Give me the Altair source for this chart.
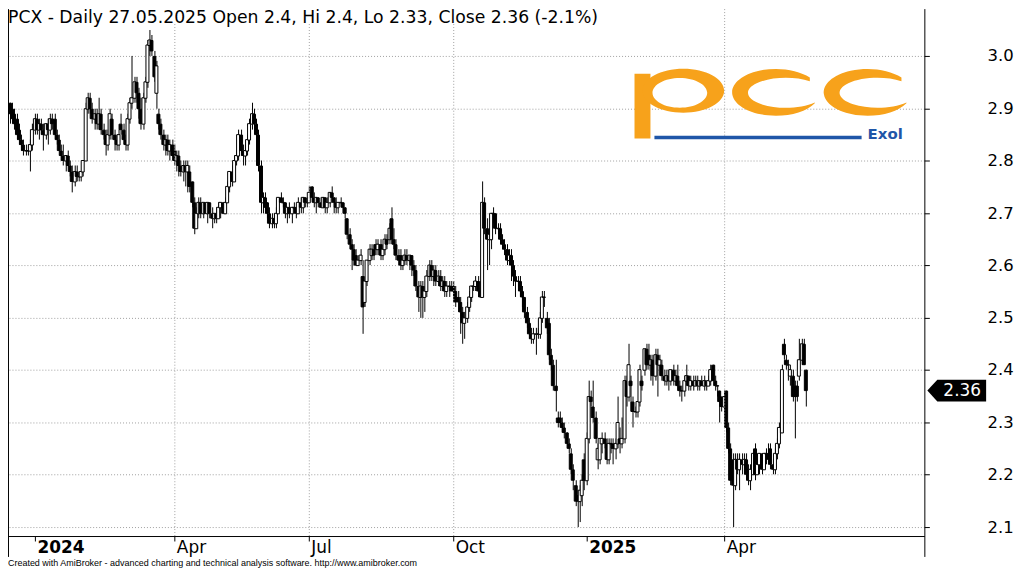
import altair as alt
import pandas as pd

# ---------------- data ----------------
opens = [
    2.91, 2.90, 2.89, 2.88, 2.86, 2.84, 2.83, 2.82, 2.82, 2.82,
    2.83, 2.86, 2.88, 2.86, 2.87, 2.86, 2.85, 2.87, 2.86, 2.88,
    2.88, 2.85, 2.84, 2.82, 2.81, 2.80, 2.81, 2.79, 2.78, 2.76,
    2.78, 2.77, 2.77, 2.78, 2.80, 2.90, 2.92, 2.90, 2.88, 2.89,
    2.87, 2.89, 2.86, 2.85, 2.83, 2.85, 2.88, 2.85, 2.84, 2.83,
    2.87, 2.86, 2.84, 2.83, 2.88, 2.91, 2.92, 2.95, 2.93, 2.90,
    2.87, 2.92, 2.95, 3.02, 3.03, 3.00, 2.93, 2.89, 2.87, 2.85,
    2.83, 2.84, 2.82, 2.83, 2.82, 2.80, 2.81, 2.79, 2.78, 2.79,
    2.78, 2.78, 2.76, 2.72, 2.67, 2.70, 2.72, 2.70, 2.72, 2.70,
    2.72, 2.70, 2.69, 2.70, 2.69, 2.71, 2.72, 2.70, 2.72, 2.75,
    2.78, 2.76, 2.80, 2.81, 2.85, 2.82, 2.81, 2.82, 2.84, 2.87,
    2.89, 2.87, 2.85, 2.79, 2.72, 2.73, 2.72, 2.70, 2.68, 2.69,
    2.68, 2.70, 2.73, 2.72, 2.72, 2.70, 2.71, 2.70, 2.71, 2.71,
    2.70, 2.72, 2.71, 2.73, 2.72, 2.72, 2.75, 2.73, 2.72, 2.73,
    2.72, 2.71, 2.73, 2.71, 2.72, 2.74, 2.73, 2.72, 2.71, 2.72,
    2.72, 2.71, 2.69, 2.66, 2.64, 2.63, 2.62, 2.60, 2.61, 2.58,
    2.53, 2.57, 2.61, 2.62, 2.63, 2.64, 2.63, 2.64, 2.62, 2.63,
    2.65, 2.65, 2.69, 2.65, 2.64, 2.62, 2.62, 2.60, 2.61, 2.62,
    2.61, 2.62, 2.60, 2.59, 2.56, 2.54, 2.56, 2.54, 2.55, 2.58,
    2.60, 2.58, 2.59, 2.57, 2.58, 2.56, 2.57, 2.55, 2.56, 2.56,
    2.56, 2.55, 2.54, 2.53, 2.51, 2.49, 2.50, 2.52, 2.54, 2.56,
    2.56, 2.57, 2.55, 2.54, 2.72, 2.67, 2.65, 2.65, 2.70, 2.70,
    2.67, 2.67, 2.65, 2.64, 2.63, 2.61, 2.62, 2.60, 2.58, 2.57,
    2.57, 2.55, 2.54, 2.51, 2.49, 2.47, 2.46, 2.47, 2.47, 2.47,
    2.50, 2.54, 2.50, 2.49, 2.43, 2.41, 2.37, 2.31, 2.31, 2.30,
    2.29, 2.28, 2.26, 2.24, 2.21, 2.18, 2.16, 2.15, 2.16, 2.23,
    2.19, 2.27, 2.35, 2.33, 2.31, 2.23, 2.23, 2.26, 2.27, 2.26,
    2.23, 2.26, 2.26, 2.25, 2.26, 2.27, 2.26, 2.27, 2.38, 2.35,
    2.38, 2.34, 2.32, 2.32, 2.34, 2.38, 2.40, 2.44, 2.43, 2.41,
    2.42, 2.39, 2.43, 2.41, 2.41, 2.39, 2.38, 2.39, 2.38, 2.40,
    2.38, 2.39, 2.37, 2.36, 2.36, 2.38, 2.39, 2.37, 2.38, 2.37,
    2.38, 2.37, 2.38, 2.37, 2.38, 2.37, 2.38, 2.41, 2.38, 2.37,
    2.36, 2.35, 2.33, 2.36, 2.29, 2.25, 2.23, 2.18, 2.23, 2.21,
    2.23, 2.22, 2.23, 2.21, 2.19, 2.20, 2.25, 2.20, 2.22, 2.24,
    2.21, 2.24, 2.24, 2.25, 2.22, 2.21, 2.24, 2.26, 2.28, 2.45,
    2.42, 2.41, 2.39, 2.39, 2.37, 2.37, 2.39, 2.42, 2.45, 2.40,
]
highs = [
    2.91, 2.91, 2.90, 2.89, 2.87, 2.85, 2.84, 2.83, 2.83, 2.84,
    2.87, 2.89, 2.89, 2.88, 2.88, 2.87, 2.87, 2.88, 2.89, 2.89,
    2.89, 2.86, 2.85, 2.83, 2.83, 2.81, 2.82, 2.80, 2.79, 2.79,
    2.79, 2.78, 2.78, 2.80, 2.91, 2.93, 2.93, 2.91, 2.90, 2.90,
    2.92, 2.90, 2.87, 2.86, 2.86, 2.90, 2.89, 2.86, 2.85, 2.86,
    2.89, 2.87, 2.85, 2.89, 2.92, 3.00, 2.96, 2.96, 2.94, 2.92,
    2.93, 2.96, 3.03, 3.05, 3.04, 3.01, 2.99, 2.90, 2.88, 2.86,
    2.85, 2.85, 2.84, 2.84, 2.83, 2.82, 2.82, 2.80, 2.80, 2.80,
    2.80, 2.79, 2.76, 2.73, 2.71, 2.73, 2.73, 2.72, 2.72, 2.72,
    2.72, 2.71, 2.70, 2.71, 2.72, 2.72, 2.72, 2.73, 2.76, 2.78,
    2.79, 2.81, 2.82, 2.86, 2.86, 2.83, 2.83, 2.85, 2.88, 2.91,
    2.90, 2.88, 2.86, 2.80, 2.74, 2.74, 2.72, 2.71, 2.70, 2.70,
    2.71, 2.73, 2.74, 2.73, 2.72, 2.71, 2.72, 2.71, 2.72, 2.71,
    2.73, 2.73, 2.73, 2.73, 2.73, 2.75, 2.75, 2.74, 2.73, 2.73,
    2.73, 2.73, 2.73, 2.73, 2.74, 2.75, 2.73, 2.73, 2.72, 2.73,
    2.72, 2.71, 2.69, 2.67, 2.65, 2.64, 2.63, 2.62, 2.63, 2.61,
    2.58, 2.61, 2.64, 2.64, 2.64, 2.65, 2.65, 2.65, 2.64, 2.66,
    2.66, 2.68, 2.71, 2.67, 2.65, 2.63, 2.63, 2.62, 2.63, 2.63,
    2.62, 2.62, 2.61, 2.60, 2.57, 2.57, 2.57, 2.56, 2.59, 2.61,
    2.61, 2.60, 2.60, 2.59, 2.59, 2.58, 2.58, 2.57, 2.57, 2.57,
    2.57, 2.56, 2.55, 2.54, 2.52, 2.51, 2.53, 2.55, 2.56, 2.57,
    2.58, 2.58, 2.57, 2.76, 2.73, 2.69, 2.67, 2.70, 2.71, 2.70,
    2.68, 2.68, 2.66, 2.65, 2.64, 2.63, 2.63, 2.61, 2.59, 2.58,
    2.58, 2.56, 2.54, 2.52, 2.50, 2.48, 2.48, 2.48, 2.48, 2.51,
    2.55, 2.55, 2.51, 2.50, 2.44, 2.42, 2.42, 2.32, 2.32, 2.31,
    2.30, 2.28, 2.27, 2.25, 2.22, 2.19, 2.17, 2.18, 2.20, 2.24,
    2.28, 2.38, 2.36, 2.38, 2.32, 2.26, 2.27, 2.28, 2.28, 2.27,
    2.27, 2.27, 2.27, 2.27, 2.35, 2.29, 2.31, 2.39, 2.39, 2.45,
    2.39, 2.35, 2.33, 2.34, 2.41, 2.39, 2.44, 2.45, 2.45, 2.43,
    2.43, 2.44, 2.44, 2.43, 2.42, 2.40, 2.40, 2.40, 2.40, 2.41,
    2.40, 2.41, 2.38, 2.37, 2.39, 2.41, 2.39, 2.39, 2.39, 2.39,
    2.39, 2.38, 2.39, 2.39, 2.38, 2.39, 2.41, 2.41, 2.39, 2.37,
    2.36, 2.35, 2.36, 2.36, 2.30, 2.26, 2.24, 2.24, 2.24, 2.24,
    2.24, 2.24, 2.24, 2.22, 2.22, 2.24, 2.26, 2.23, 2.24, 2.24,
    2.24, 2.25, 2.26, 2.26, 2.23, 2.25, 2.27, 2.30, 2.41, 2.46,
    2.43, 2.42, 2.41, 2.40, 2.38, 2.38, 2.46, 2.46, 2.46, 2.40,
]
lows = [
    2.87, 2.88, 2.86, 2.84, 2.83, 2.82, 2.81, 2.81, 2.81, 2.78,
    2.82, 2.85, 2.85, 2.84, 2.85, 2.82, 2.84, 2.83, 2.85, 2.86,
    2.84, 2.83, 2.82, 2.80, 2.79, 2.78, 2.79, 2.77, 2.74, 2.75,
    2.76, 2.76, 2.76, 2.77, 2.80, 2.89, 2.89, 2.87, 2.86, 2.86,
    2.86, 2.85, 2.84, 2.81, 2.82, 2.84, 2.84, 2.82, 2.82, 2.82,
    2.85, 2.83, 2.82, 2.82, 2.87, 2.90, 2.91, 2.91, 2.88, 2.86,
    2.86, 2.91, 2.94, 3.00, 3.00, 2.95, 2.90, 2.86, 2.84, 2.82,
    2.81, 2.81, 2.80, 2.80, 2.79, 2.78, 2.77, 2.77, 2.76, 2.75,
    2.74, 2.74, 2.71, 2.66, 2.67, 2.69, 2.69, 2.69, 2.70, 2.68,
    2.69, 2.67, 2.68, 2.68, 2.69, 2.69, 2.70, 2.70, 2.72, 2.74,
    2.75, 2.76, 2.79, 2.80, 2.81, 2.79, 2.79, 2.81, 2.83, 2.86,
    2.86, 2.84, 2.78, 2.70, 2.70, 2.70, 2.69, 2.67, 2.67, 2.67,
    2.67, 2.70, 2.72, 2.71, 2.69, 2.68, 2.69, 2.68, 2.70, 2.69,
    2.70, 2.70, 2.70, 2.71, 2.71, 2.72, 2.72, 2.71, 2.70, 2.71,
    2.71, 2.71, 2.70, 2.70, 2.71, 2.72, 2.70, 2.70, 2.70, 2.71,
    2.70, 2.69, 2.65, 2.63, 2.59, 2.60, 2.60, 2.60, 2.60, 2.47,
    2.52, 2.56, 2.60, 2.61, 2.61, 2.62, 2.62, 2.61, 2.61, 2.62,
    2.63, 2.64, 2.64, 2.63, 2.61, 2.60, 2.59, 2.59, 2.60, 2.60,
    2.59, 2.58, 2.58, 2.55, 2.51, 2.50, 2.50, 2.51, 2.54, 2.57,
    2.57, 2.56, 2.56, 2.56, 2.55, 2.55, 2.54, 2.54, 2.54, 2.55,
    2.54, 2.52, 2.51, 2.47, 2.45, 2.46, 2.49, 2.51, 2.53, 2.55,
    2.55, 2.54, 2.54, 2.54, 2.66, 2.59, 2.60, 2.63, 2.68, 2.66,
    2.66, 2.64, 2.63, 2.62, 2.60, 2.60, 2.57, 2.56, 2.54, 2.55,
    2.54, 2.52, 2.50, 2.48, 2.46, 2.45, 2.45, 2.43, 2.46, 2.46,
    2.49, 2.52, 2.47, 2.42, 2.40, 2.36, 2.32, 2.29, 2.29, 2.28,
    2.27, 2.25, 2.24, 2.20, 2.17, 2.14, 2.10, 2.11, 2.14, 2.17,
    2.18, 2.26, 2.33, 2.30, 2.26, 2.21, 2.22, 2.24, 2.25, 2.22,
    2.22, 2.24, 2.22, 2.23, 2.25, 2.24, 2.25, 2.26, 2.33, 2.34,
    2.32, 2.29, 2.31, 2.31, 2.33, 2.36, 2.39, 2.40, 2.40, 2.38,
    2.37, 2.38, 2.35, 2.39, 2.38, 2.37, 2.37, 2.36, 2.37, 2.37,
    2.37, 2.36, 2.35, 2.34, 2.35, 2.37, 2.36, 2.36, 2.36, 2.37,
    2.36, 2.36, 2.37, 2.36, 2.36, 2.37, 2.37, 2.38, 2.36, 2.35,
    2.30, 2.32, 2.32, 2.28, 2.24, 2.18, 2.10, 2.17, 2.20, 2.17,
    2.20, 2.20, 2.19, 2.18, 2.17, 2.20, 2.19, 2.20, 2.20, 2.20,
    2.21, 2.22, 2.22, 2.21, 2.20, 2.20, 2.23, 2.25, 2.28, 2.42,
    2.40, 2.38, 2.37, 2.34, 2.27, 2.34, 2.38, 2.41, 2.41, 2.33,
]
closes = [
    2.89, 2.88, 2.87, 2.85, 2.84, 2.83, 2.82, 2.82, 2.82, 2.83,
    2.86, 2.88, 2.86, 2.87, 2.86, 2.85, 2.87, 2.86, 2.88, 2.87,
    2.85, 2.84, 2.82, 2.81, 2.80, 2.81, 2.79, 2.78, 2.76, 2.78,
    2.77, 2.77, 2.78, 2.80, 2.90, 2.92, 2.90, 2.88, 2.89, 2.87,
    2.89, 2.86, 2.85, 2.83, 2.85, 2.89, 2.85, 2.84, 2.83, 2.85,
    2.86, 2.84, 2.83, 2.88, 2.91, 2.92, 2.95, 2.93, 2.90, 2.87,
    2.92, 2.95, 3.02, 3.03, 3.01, 2.96, 2.98, 2.87, 2.85, 2.83,
    2.84, 2.82, 2.83, 2.81, 2.80, 2.81, 2.79, 2.78, 2.79, 2.78,
    2.79, 2.75, 2.72, 2.67, 2.70, 2.72, 2.70, 2.72, 2.70, 2.72,
    2.70, 2.69, 2.70, 2.69, 2.71, 2.72, 2.70, 2.72, 2.75, 2.78,
    2.76, 2.80, 2.81, 2.85, 2.82, 2.81, 2.82, 2.84, 2.87, 2.89,
    2.87, 2.85, 2.79, 2.72, 2.73, 2.71, 2.70, 2.68, 2.69, 2.68,
    2.70, 2.73, 2.72, 2.72, 2.70, 2.71, 2.70, 2.71, 2.71, 2.70,
    2.72, 2.71, 2.73, 2.72, 2.72, 2.74, 2.73, 2.72, 2.73, 2.72,
    2.71, 2.73, 2.71, 2.72, 2.74, 2.73, 2.72, 2.71, 2.72, 2.72,
    2.71, 2.70, 2.66, 2.64, 2.63, 2.61, 2.60, 2.61, 2.62, 2.52,
    2.57, 2.61, 2.63, 2.63, 2.62, 2.63, 2.64, 2.62, 2.63, 2.65,
    2.64, 2.67, 2.65, 2.64, 2.62, 2.61, 2.60, 2.61, 2.62, 2.61,
    2.62, 2.60, 2.59, 2.56, 2.54, 2.56, 2.54, 2.55, 2.58, 2.60,
    2.58, 2.59, 2.57, 2.58, 2.56, 2.57, 2.55, 2.56, 2.56, 2.55,
    2.55, 2.53, 2.53, 2.51, 2.49, 2.50, 2.52, 2.54, 2.56, 2.56,
    2.57, 2.55, 2.54, 2.72, 2.67, 2.65, 2.66, 2.70, 2.70, 2.67,
    2.67, 2.65, 2.64, 2.63, 2.61, 2.62, 2.60, 2.58, 2.57, 2.57,
    2.55, 2.54, 2.51, 2.49, 2.47, 2.46, 2.47, 2.47, 2.47, 2.50,
    2.54, 2.54, 2.48, 2.43, 2.41, 2.37, 2.36, 2.30, 2.30, 2.29,
    2.28, 2.26, 2.25, 2.21, 2.19, 2.15, 2.15, 2.17, 2.19, 2.19,
    2.27, 2.35, 2.34, 2.31, 2.27, 2.25, 2.27, 2.27, 2.26, 2.23,
    2.26, 2.26, 2.25, 2.26, 2.30, 2.26, 2.27, 2.38, 2.35, 2.41,
    2.37, 2.32, 2.32, 2.34, 2.40, 2.37, 2.44, 2.41, 2.41, 2.42,
    2.39, 2.43, 2.41, 2.42, 2.39, 2.38, 2.39, 2.38, 2.40, 2.38,
    2.39, 2.37, 2.36, 2.36, 2.38, 2.39, 2.37, 2.38, 2.37, 2.38,
    2.37, 2.38, 2.37, 2.38, 2.37, 2.38, 2.40, 2.38, 2.37, 2.37,
    2.34, 2.33, 2.35, 2.29, 2.25, 2.19, 2.18, 2.23, 2.21, 2.23,
    2.22, 2.23, 2.20, 2.19, 2.21, 2.24, 2.20, 2.22, 2.24, 2.21,
    2.24, 2.24, 2.23, 2.22, 2.21, 2.24, 2.26, 2.29, 2.40, 2.43,
    2.41, 2.41, 2.40, 2.35, 2.35, 2.35, 2.42, 2.45, 2.41, 2.36,
]

# bar index of the first session of each labelled month
tick_idx = [11, 74, 135, 200, 260, 322]
tick_labels = ["2024", "Apr", "Jul", "Oct", "2025", "Apr"]
year_idx = [11, 260]
grid_idx = [74, 135, 200, 322]
price_ticks = [2.1, 2.2, 2.3, 2.4, 2.5, 2.6, 2.7, 2.8, 2.9, 3.0]

title_text = "PCX - Daily 27.05.2025 Open 2.4, Hi 2.4, Lo 2.33, Close 2.36 (-2.1%)"
footer_text = ("Created with AmiBroker - advanced charting and technical analysis "
               "software. http://www.amibroker.com")
logo_word = "Exol"

# ---------------- layout / style ----------------
W, H = 920, 529
FONT = "DejaVu Sans"
GRID = "#a0a0a0"
ORANGE = "#F7A21B"
BLUE = "#1F56A8"

n = len(closes)
df = pd.DataFrame({"i": list(range(n)), "open": opens, "high": highs,
                   "low": lows, "close": closes})
df["high"] = df[["high", "open", "close"]].max(axis=1)
df["low"] = df[["low", "open", "close"]].min(axis=1)

xs = alt.Scale(domain=[1.333, 410.2], nice=False, zero=False, round=True)
ys = alt.Scale(domain=[2.0828, 3.0894], nice=False, zero=False, round=True)

label_expr = "".join(f"datum.value == {v} ? '{t}' : " for v, t in zip(tick_idx, tick_labels)) + "''"
bold_test = " || ".join(f"datum.value == {v}" for v in year_idx)

x_axis = alt.Axis(
    values=tick_idx, labelExpr=label_expr, grid=False,
    domain=True, domainColor="black", domainWidth=1,
    ticks=True, tickColor="black", tickSize=5, tickWidth=1,
    labelAlign="left", labelBaseline="top", labelPadding=-1, labelOffset=2,
    labelFont=FONT, labelFontSize=17, labelColor="black",
    labelFontWeight={"condition": {"test": bold_test, "value": "bold"}, "value": "normal"},
    labelOverlap=False, labelFlush=False, labelBound=False, title=None,
)
y_axis = alt.Axis(
    orient="right", values=price_ticks, format=".1f",
    grid=True, gridColor=GRID, gridDash=[1, 2], gridWidth=1,
    domain=False, ticks=True, tickColor="black", tickSize=5, tickWidth=1,
    labelPadding=58, labelAlign="left", labelBaseline="middle",
    labelFont=FONT, labelFontSize=16.5, labelColor="black", title=None,
)

one = pd.DataFrame({"k": [0]})

# candlesticks carry the axes
wicks = alt.Chart(df).mark_rule(color="black", strokeWidth=1, clip=True, xOffset=0.5).encode(
    x=alt.X("i:Q", scale=xs, axis=x_axis),
    y=alt.Y("low:Q", scale=ys, axis=y_axis),
    y2="high:Q",
)
bodies = alt.Chart(df).mark_bar(size=3, stroke="black", strokeWidth=1, clip=True, yOffset=0.5).encode(
    x=alt.X("i:Q", scale=xs, axis=x_axis),
    y=alt.Y("open:Q", scale=ys, axis=y_axis),
    y2="close:Q",
    fill=alt.condition("datum.close >= datum.open", alt.value("white"), alt.value("black")),
)

vgrid = alt.Chart(pd.DataFrame({"i": grid_idx})).mark_rule(
    color=GRID, strokeDash=[1, 2], strokeWidth=1, xOffset=0.5
).encode(x=alt.X("i:Q", scale=xs, axis=x_axis), y=alt.value(0), y2=alt.value(H))

title_box = alt.Chart(one).mark_rect(fill="white").encode(
    x=alt.value(0), x2=alt.value(598), y=alt.value(0), y2=alt.value(15))

title = alt.Chart(pd.DataFrame({"t": [title_text]})).mark_text(
    align="left", baseline="alphabetic", font=FONT, fontSize=17.3, color="black"
).encode(x=alt.value(0), y=alt.value(14), text="t:N")

footer = alt.Chart(pd.DataFrame({"t": [footer_text]})).mark_text(
    align="left", baseline="alphabetic", font="Liberation Sans", fontSize=9, color="black"
).encode(x=alt.value(0), y=alt.value(559.5), text="t:N")

# ---- logo (drawn shapes) ----
P_PATH = ("M -1 0 A 1 0.537 0 1 1 1 0 A 1 0.537 0 1 1 -1 0 Z "
          "M -0.755 0.05 A 0.67 0.366 0 1 0 0.585 0.05 A 0.67 0.366 0 1 0 -0.755 0.05 Z")
C_PATH = ("M 0.773 -0.339 A 1 0.534 0 1 0 0.886 0.248 L 0.886 0.232 "
          "A 0.864 0.341 0 1 1 0.773 -0.252 Z")
p_stem = alt.Chart(one).mark_rect(fill=ORANGE).encode(
    x=alt.value(629), x2=alt.value(645), y=alt.value(65), y2=alt.value(130))
p_bowl = alt.Chart(one).mark_point(shape=P_PATH, size=82 ** 2, filled=True, color=ORANGE, opacity=1).encode(
    x=alt.value(678), y=alt.value(82))
c1 = alt.Chart(one).mark_point(shape=C_PATH, size=88 ** 2, filled=True, color=ORANGE, opacity=1).encode(
    x=alt.value(771), y=alt.value(83.5))
c2 = alt.Chart(one).mark_point(shape=C_PATH, size=88 ** 2, filled=True, color=ORANGE, opacity=1).encode(
    x=alt.value(863), y=alt.value(83.5))
logo_line = alt.Chart(one).mark_rule(color=BLUE, strokeWidth=3.5).encode(
    x=alt.value(649), x2=alt.value(857), y=alt.value(129))
exol = alt.Chart(pd.DataFrame({"t": [logo_word]})).mark_text(
    align="left", baseline="alphabetic", font=FONT, fontSize=15, fontWeight="bold", color=BLUE
).encode(x=alt.value(863), y=alt.value(130.5), text="t:N")

# ---- last price tag ----
TAG_PATH = "M -1 0 L -0.66 -0.373 L 1 -0.373 L 1 0.373 L -0.66 0.373 Z"
last_df = pd.DataFrame({"close": [closes[-1]], "label": [f"{closes[-1]:.2f}"]})
tag = alt.Chart(last_df).mark_point(shape=TAG_PATH, size=59 ** 2, filled=True, color="black", opacity=1).encode(
    x=alt.value(952.5), y=alt.Y("close:Q", scale=ys, axis=y_axis))
tag_text = alt.Chart(last_df).mark_text(
    color="white", font=FONT, fontSize=17, align="center", baseline="middle"
).encode(x=alt.value(958), y=alt.Y("close:Q", scale=ys, axis=y_axis), text="label:N")

# ---- frame lines ----
left_line = alt.Chart(one).mark_rule(color="black", strokeWidth=1).encode(
    x=alt.value(0.5), y=alt.value(0), y2=alt.value(550))
right_line = alt.Chart(one).mark_rule(color="black", strokeWidth=1).encode(
    x=alt.value(920.5), y=alt.value(0), y2=alt.value(550))

chart = alt.layer(
    wicks, bodies, vgrid, title_box, title, p_stem, p_bowl, c1, c2, logo_line, exol,
    tag, tag_text, left_line, right_line, footer,
).properties(
    width=W, height=H,
    padding={"left": 0, "top": 0, "right": 90, "bottom": 33},
    autosize=alt.AutoSizeParams(type="none"),
).configure_view(stroke=None)

chart.save("out.html", embed_options={"renderer": "svg", "actions": False})
